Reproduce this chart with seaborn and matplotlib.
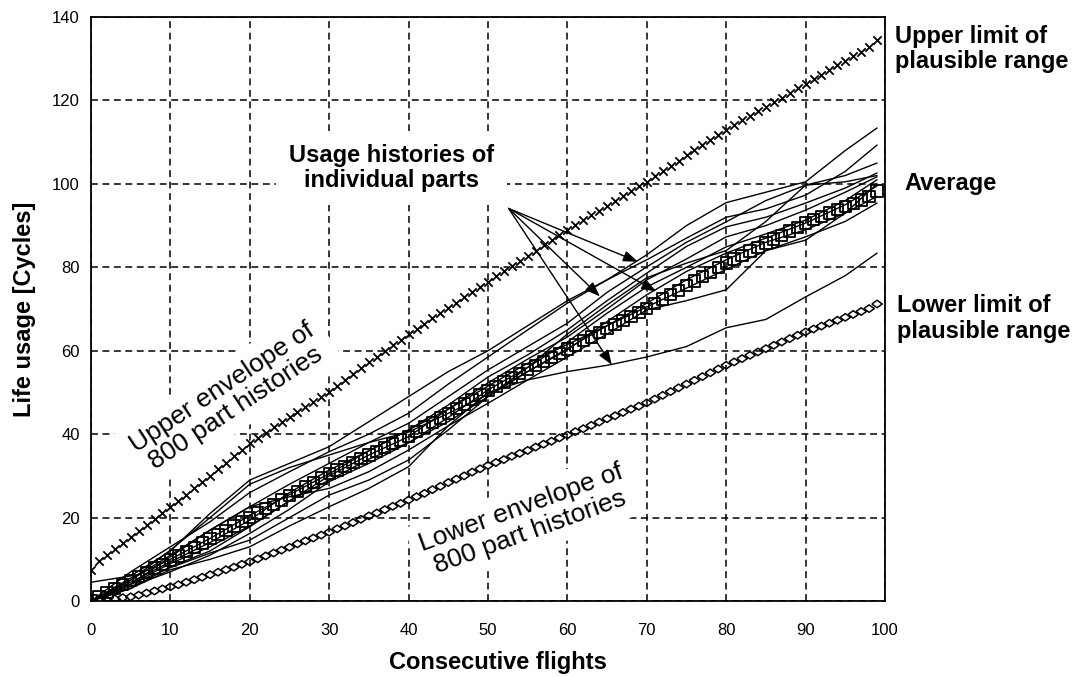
import matplotlib
matplotlib.use("Agg")
import matplotlib.pyplot as plt
import pandas as pd
import seaborn as sns

# ---------------- data ----------------
flights = list(range(100))

upper_limit = [7.5, 9.5, 11.0, 12.4, 13.9, 15.3, 16.8, 18.2, 19.6, 21.0,
               22.5, 24.0, 25.5, 27.0, 28.5, 30.0, 31.6, 33.1, 34.7, 36.2,
               37.8, 39.1, 40.3, 41.6, 42.8, 44.1, 45.3, 46.6, 47.8, 49.0,
               50.2, 51.6, 53.0, 54.4, 55.8, 57.2, 58.5, 59.9, 61.3, 62.6,
               64.0, 65.3, 66.5, 67.8, 69.0, 70.3, 71.5, 72.8, 74.0, 75.3,
               76.5, 77.8, 79.0, 80.3, 81.5, 82.8, 84.0, 85.3, 86.5, 87.8,
               89.0, 90.2, 91.3, 92.5, 93.6, 94.8, 95.9, 97.1, 98.2, 99.4,
               100.5, 101.8, 103.0, 104.3, 105.5, 106.8, 108.0, 109.3, 110.5, 111.8,
               113.0, 114.1, 115.2, 116.3, 117.4, 118.5, 119.6, 120.7, 121.8, 122.9,
               124.0, 125.1, 126.2, 127.3, 128.4, 129.5, 130.6, 131.7, 132.8, 134.5]

average = [0.0, 1.0, 2.0, 3.0, 4.0, 5.0, 5.9, 6.9, 7.9, 8.8,
           9.8, 10.8, 11.8, 12.8, 13.9, 14.9, 15.9, 16.9, 18.0, 19.0,
           20.0, 21.1, 22.1, 23.2, 24.2, 25.3, 26.3, 27.4, 28.4, 29.5,
           30.5, 31.4, 32.3, 33.2, 34.1, 35.0, 35.9, 36.8, 37.7, 38.6,
           39.5, 40.6, 41.7, 42.8, 43.9, 45.0, 46.1, 47.2, 48.3, 49.4,
           50.5, 51.5, 52.5, 53.5, 54.5, 55.5, 56.4, 57.4, 58.4, 59.4,
           60.4, 61.4, 62.4, 63.3, 64.3, 65.3, 66.3, 67.3, 68.2, 69.2,
           70.2, 71.3, 72.4, 73.4, 74.5, 75.6, 76.7, 77.8, 78.8, 79.9,
           81.0, 82.0, 82.9, 83.9, 84.8, 85.8, 86.8, 87.7, 88.7, 89.6,
           90.6, 91.4, 92.2, 93.0, 93.8, 94.6, 95.3, 96.1, 96.9, 98.3]

lower_limit = [0.0, 0.1, 0.3, 0.5, 0.8, 1.0, 1.4, 1.9, 2.4, 2.9,
               3.4, 3.9, 4.5, 5.1, 5.7, 6.3, 6.9, 7.5, 8.1, 8.8,
               9.4, 10.1, 10.8, 11.5, 12.2, 12.9, 13.7, 14.4, 15.1, 15.8,
               16.5, 17.3, 18.0, 18.8, 19.6, 20.4, 21.1, 21.9, 22.7, 23.4,
               24.2, 25.0, 25.8, 26.7, 27.5, 28.4, 29.2, 30.0, 30.9, 31.7,
               32.5, 33.2, 33.9, 34.7, 35.4, 36.1, 36.9, 37.6, 38.3, 39.1,
               39.8, 40.6, 41.3, 42.1, 42.9, 43.7, 44.4, 45.2, 46.0, 46.7,
               47.5, 48.4, 49.3, 50.2, 51.1, 52.0, 52.9, 53.8, 54.7, 55.6,
               56.5, 57.3, 58.1, 58.9, 59.7, 60.5, 61.3, 62.1, 62.9, 63.7,
               64.5, 65.2, 65.9, 66.6, 67.3, 68.0, 68.7, 69.4, 70.1, 71.2]

hist_flights = [0, 5, 10, 15, 20, 25, 30, 35, 40, 45, 50,
                55, 60, 65, 70, 75, 80, 85, 90, 95, 99]

part_01 = [4.5, 6, 12, 21, 29, 33, 37, 43, 49, 55, 60, 66, 72, 77, 83, 90, 95.5, 98, 100.5, 108, 113.4]
part_02 = [0, 7, 13, 19, 26, 31, 35.8, 40, 45, 52, 58.5, 65, 71.4, 77, 81.8, 87, 92, 94, 97.3, 103, 109.3]
part_03 = [0, 4, 10.6, 17, 22.6, 28, 33, 38, 42.6, 49, 55.4, 61, 66.6, 74, 80.1, 86, 90.9, 96, 99.7, 102, 105]
part_04 = [0, 4.5, 9.4, 14, 19.4, 26, 31.4, 36, 41, 47, 53.7, 59, 65, 72, 78.6, 85, 89.7, 92, 95.4, 99, 102.6]
part_05 = [0, 3, 8.2, 12, 17.8, 24, 30, 35, 39.4, 46, 52.3, 58, 63.3, 70, 77, 82, 87.3, 90, 93.7, 98, 101.7]
part_06 = [0, 3.5, 7, 11, 16.2, 22, 28.6, 33, 37.9, 44, 50.6, 56, 62.1, 69, 75.3, 80, 84.9, 88, 91.3, 96, 101]
part_07 = [0, 4, 8, 11.5, 14.6, 20, 25.4, 29, 33.8, 41, 49, 55, 60.2, 67, 73.4, 79, 83.4, 87, 90.6, 95, 99.5]
part_08 = [0, 5, 11, 17, 22.6, 25, 27, 31, 36.2, 42, 47.4, 53, 58.5, 64, 69.8, 72, 74.6, 84, 87.3, 91, 95.4]
part_09 = [0, 3, 7.5, 10, 13, 18, 22.6, 27, 32.2, 42, 50, 53, 55, 56.5, 58.5, 61, 65.5, 67.5, 72.9, 78, 83.4]
part_10 = [0, 5.5, 10, 15, 20.5, 25.5, 30.5, 36, 41, 46, 51.5, 57, 61.5, 66, 71.4, 77, 81.8, 86, 89, 93, 97]
part_11 = [0, 5, 12.2, 20, 28, 32, 35, 38, 40.5, 45, 49.5, 55, 60.5, 66, 70.5, 75, 79.5, 84, 86.5, 93, 100]
part_12 = [0, 4, 9, 13, 18, 24, 29, 34, 38, 43, 49, 56, 64, 71, 77.5, 81, 84, 91, 99.7, 100.5, 102]

parts = [part_01, part_02, part_03, part_04, part_05, part_06,
         part_07, part_08, part_09, part_10, part_11, part_12]

x_ticks = [0, 10, 20, 30, 40, 50, 60, 70, 80, 90, 100]
y_ticks = [0, 20, 40, 60, 80, 100, 120, 140]

arrow_origin = (52.6, 94.1)
arrow_targets = [(68.9, 81.3), (71.2, 74.2), (64.1, 73.0), (65.6, 56.6)]

# ---------------- figure ----------------
sns.set_theme(style="white")
plt.rcParams["font.family"] = ["Liberation Sans", "DejaVu Sans"]
plt.rcParams["text.color"] = "black"
plt.rcParams["axes.labelcolor"] = "black"
plt.rcParams["xtick.color"] = "black"
plt.rcParams["ytick.color"] = "black"

fig = plt.figure(figsize=(10.77, 6.77), dpi=100)
ax = fig.add_axes([91 / 1077, 76 / 677, 794 / 1077, 584 / 677])

hist = pd.DataFrame(
    [(i, f, v) for i, p in enumerate(parts) for f, v in zip(hist_flights, p)],
    columns=["part", "flight", "usage"],
)
sns.lineplot(data=hist, x="flight", y="usage", units="part", estimator=None,
             color="black", linewidth=1.0, ax=ax, legend=False, zorder=2)

marks = pd.DataFrame({"flight": flights, "upper": upper_limit,
                      "average": average, "lower": lower_limit})
sns.scatterplot(data=marks, x="flight", y="upper", marker="x", s=36,
                color="black", linewidth=1.3, ax=ax, zorder=3, legend=False)
sns.scatterplot(data=marks, x="flight", y="average", marker="s", s=66,
                color="black", facecolor="none", edgecolor="black",
                linewidth=1.3, ax=ax, zorder=3, legend=False)
diamond = [(-1, 0), (0, 0.72), (1, 0), (0, -0.72), (-1, 0)]
sns.scatterplot(data=marks, x="flight", y="lower", marker=diamond, s=56,
                color="black", facecolor="none", edgecolor="black",
                linewidth=1.1, ax=ax, zorder=3, legend=False)

ax.set_xlim(0, 100)
ax.set_ylim(0, 140)
ax.set_xticks(x_ticks)
ax.set_yticks(y_ticks)
ax.grid(True, color="black", linestyle=(0, (4.5, 3)), linewidth=1.1)
ax.set_axisbelow(True)
for sp in ax.spines.values():
    sp.set_color("black")
    sp.set_linewidth(1.3)
    sp.set_visible(True)
    sp.set_zorder(5)
ax.tick_params(axis="both", direction="inout", length=5, width=1,
               colors="black", labelsize=12)
ax.tick_params(axis="x", pad=13)
ax.tick_params(axis="y", pad=5.5)

ax.set_xlabel("Consecutive flights", fontsize=17, fontweight="bold", va="center")
ax.xaxis.set_label_coords(0.513, -0.106)
ax.set_ylabel("Life usage [Cycles]", fontsize=17, fontweight="bold", va="center")
ax.yaxis.set_label_coords(-0.084, 0.5)

for tgt in arrow_targets:
    ax.annotate("", xy=tgt, xytext=arrow_origin,
                arrowprops=dict(arrowstyle="-|>,head_length=0.6,head_width=0.22",
                                color="black", lw=1.0, shrinkA=0, shrinkB=0,
                                mutation_scale=15), zorder=4)

white_box = dict(boxstyle="square,pad=0.35", facecolor="white", edgecolor="none")
ax.text(37.9, 103.8, "Usage histories of\nindividual parts", fontsize=17,
        fontweight="bold", ha="center", va="center", multialignment="center",
        linespacing=1.15, zorder=1.5,
        bbox=dict(boxstyle="square,pad=0.55", facecolor="white", edgecolor="none"))
ax.text(17.4, 48.7, "Upper envelope of\n800 part histories", fontsize=19,
        ha="center", va="center", multialignment="center", rotation=33.5,
        rotation_mode="anchor", linespacing=1.05, zorder=1.5, bbox=white_box)
ax.text(54.7, 19.4, "Lower envelope of\n800 part histories", fontsize=19,
        ha="center", va="center", multialignment="center", rotation=20,
        rotation_mode="anchor", linespacing=1.05, zorder=1.5, bbox=white_box)

ax.text(101.3, 132.3, "Upper limit of\nplausible range", fontsize=17,
        fontweight="bold", ha="left", va="center", linespacing=1.15, clip_on=False)
ax.text(102.5, 100.0, "Average", fontsize=17, fontweight="bold",
        ha="left", va="center", clip_on=False)
ax.text(101.5, 67.7, "Lower limit of\nplausible range", fontsize=17,
        fontweight="bold", ha="left", va="center", linespacing=1.15, clip_on=False)

fig.savefig("out.png", dpi=100)
